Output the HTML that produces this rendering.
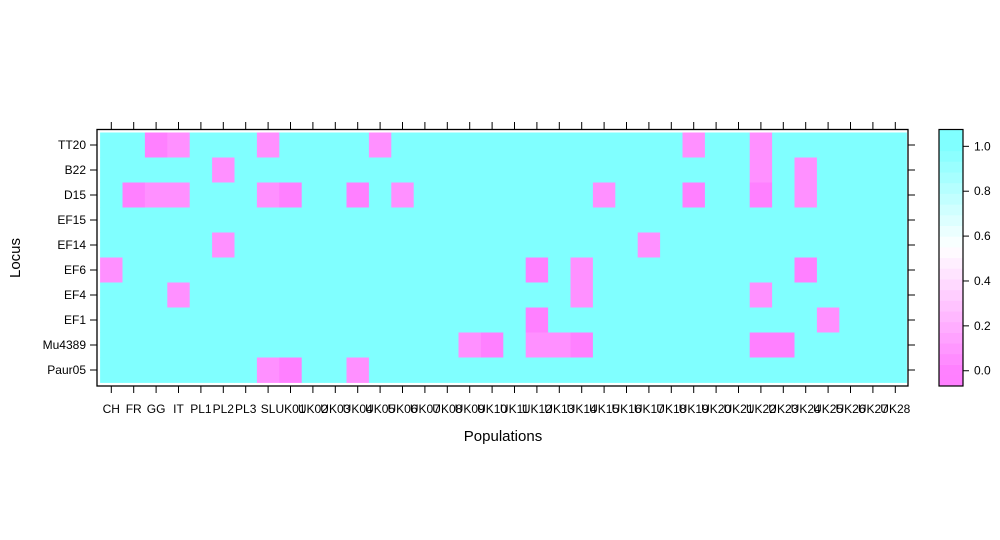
<!DOCTYPE html>
<html><head><meta charset="utf-8"><style>
body{margin:0;background:#fff;}
svg{display:block;font-family:"Liberation Sans",Arial,sans-serif;}
</style></head><body>
<svg id="chart" width="1000" height="540" viewBox="0 0 1000 540" xmlns="http://www.w3.org/2000/svg">
<g id="cells"></g>
<g id="axes"></g>
<g id="cbar"></g>
<text transform="translate(20,258) rotate(-90)" text-anchor="middle" font-size="15">Locus</text>
<text x="503" y="441" text-anchor="middle" font-size="15">Populations</text>
</svg>
<script>
const populations = ["CH","FR","GG","IT","PL1","PL2","PL3","SL","UK01","UK02","UK03","UK04","UK05","UK06","UK07","UK08","UK09","UK10","UK11","UK12","UK13","UK14","UK15","UK16","UK17","UK18","UK19","UK20","UK21","UK22","UK23","UK24","UK25","UK26","UK27","UK28"];
const loci = ["TT20","B22","D15","EF15","EF14","EF6","EF4","EF1","Mu4389","Paur05"];
// non-1 cells: [row, col, value]
const lowCells = [
 [0,2,0.0],[0,3,0.07],[0,7,0.07],[0,12,0.07],[0,26,0.07],[0,29,0.07],
 [1,5,0.07],[1,29,0.07],[1,31,0.07],
 [2,1,0.0],[2,2,0.07],[2,3,0.07],[2,7,0.07],[2,8,0.0],[2,11,0.0],[2,13,0.07],[2,22,0.07],[2,26,0.0],[2,29,0.0],[2,31,0.07],
 [4,5,0.07],[4,24,0.07],
 [5,0,0.07],[5,19,0.0],[5,21,0.07],[5,31,0.0],
 [6,3,0.07],[6,21,0.07],[6,29,0.07],
 [7,19,0.0],[7,32,0.07],
 [8,16,0.07],[8,17,0.0],[8,19,0.07],[8,20,0.07],[8,21,0.0],[8,29,0.0],[8,30,0.0],
 [9,7,0.07],[9,8,0.0],[9,11,0.07]
];
const cbarTicks = [0.0,0.2,0.4,0.6,0.8,1.0];

const NS="http://www.w3.org/2000/svg";
function mk(t,a,p){const e=document.createElementNS(NS,t);for(const k in a)e.setAttribute(k,a[k]);p.appendChild(e);return e;}
function color(v){
  let r,g,b;
  if(v<=0){r=255;g=128;b=255;}
  else if(v<0.55){const t=v/0.55;r=255;g=128+127*t;b=255;}
  else if(v<1){const t=(v-0.55)/0.45;r=255-127*t;g=255;b=255;}
  else {r=128;g=255;b=255;}
  return `rgb(${Math.round(r)},${Math.round(g)},${Math.round(b)})`;
}
const x0=100.1, cw=22.4, y0=132.5, rh=25;
const xc=i=>x0+cw*(i+0.5), yc=j=>y0+rh*(j+0.5);
const values=loci.map(()=>populations.map(()=>1.0));
lowCells.forEach(([r,c,v])=>values[r][c]=v);
const cells=document.getElementById('cells');
values.forEach((row,j)=>row.forEach((v,i)=>{
  const e=mk('rect',{x:x0+cw*i,y:y0+rh*j,width:cw+0.4,height:rh+0.4,fill:color(v)},cells);
  
  
}));
const ax=document.getElementById('axes');
const fr=mk('rect',{x:97,y:129.5,width:811,height:256.5,fill:'none',stroke:'#000','stroke-width':1.3},ax);


populations.forEach((p,i)=>{
  const x=xc(i);
  mk('line',{x1:x,x2:x,y1:386,y2:393,stroke:'#000'},ax);
  mk('line',{x1:x,x2:x,y1:122,y2:129.5,stroke:'#000'},ax);
  const t=mk('text',{x:x,y:413,'text-anchor':'middle','font-size':12},ax);
  t.textContent=p;
  
  
});
loci.forEach((l,j)=>{
  const y=yc(j);
  mk('line',{x1:90,x2:97,y1:y,y2:y,stroke:'#000'},ax);
  mk('line',{x1:908,x2:915,y1:y,y2:y,stroke:'#000'},ax);
  const t=mk('text',{x:86,y:y+4,'text-anchor':'end','font-size':12},ax);
  t.textContent=l;
  
  
});
const cb=document.getElementById('cbar');
const cTop=129.5,cBot=386,vTop=1.075,vBot=-0.068;
const cy=v=>cBot-(v-vBot)/(vTop-vBot)*(cBot-cTop);
const nb=24;
for(let k=0;k<nb;k++){
  const v1=vBot+(vTop-vBot)*k/nb, v2=vBot+(vTop-vBot)*(k+1)/nb;
  const e=mk('rect',{x:939,y:cy(v2),width:24,height:cy(v1)-cy(v2)+0.3,fill:color((v1+v2)/2)},cb);
  
  
}
mk('rect',{x:939,y:cTop,width:24,height:cBot-cTop,fill:'none',stroke:'#000','stroke-width':1.2},cb);
cbarTicks.forEach(v=>{
  const y=cy(v);
  mk('line',{x1:963,x2:969,y1:y,y2:y,stroke:'#000'},cb);
  const t=mk('text',{x:974,y:y+4,'font-size':12},cb);
  t.textContent=v.toFixed(1);
  
  
});
</script>
</body></html>
